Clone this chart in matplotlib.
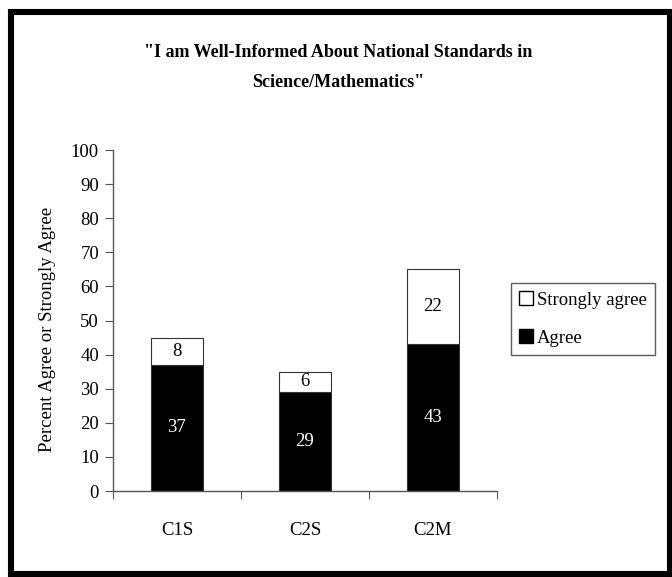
import matplotlib.pyplot as plt
from matplotlib.patches import Rectangle, Patch
import numpy as np

plt.rcParams['font.family'] = ['Liberation Serif', 'DejaVu Serif']

categories = ['C1S', 'C2S', 'C2M']
agree = [37, 29, 43]
strongly = [8, 6, 22]

fig = plt.figure(figsize=(6.72, 5.77), dpi=100)
ax = fig.add_axes([0.168, 0.149, 0.5716, 0.591])

x = np.arange(1, len(categories) + 1)
w = 0.41
ax.bar(x, agree, w, color='black', edgecolor='#333333', linewidth=0.8)
ax.bar(x, strongly, w, bottom=agree, color='white', edgecolor='#333333', linewidth=0.8)

for xi, a, s in zip(x, agree, strongly):
    ax.text(xi, a / 2, str(a), ha='center', va='center', color='white', fontsize=13.5)
    ax.text(xi, a + s / 2, str(s), ha='center', va='center', color='black', fontsize=13.5)

ax.set_xlim(0.5, 3.5)
ax.set_ylim(0, 100)
ax.set_yticks(range(0, 101, 10))
ax.set_xticks([0.5, 1.5, 2.5, 3.5])
ax.set_xticklabels([])
ax.set_xticks(x, minor=True)
ax.set_xticklabels(categories, minor=True)
ax.tick_params(axis='x', which='minor', length=0, pad=22, labelsize=13.5)
ax.tick_params(axis='x', which='major', length=6, direction='out', color='#555555')
ax.tick_params(axis='y', length=6, direction='out', labelsize=13.5, color='#555555', pad=4)
for side in ['top', 'right']:
    ax.spines[side].set_visible(False)
for side in ['left', 'bottom']:
    ax.spines[side].set_color('#555555')
    ax.spines[side].set_linewidth(1)
ax.set_ylabel('Percent Agree or Strongly Agree', fontsize=13.5)
ax.yaxis.set_label_coords(-0.148, 0.475)

fig.text(0.503, 0.909, '"I am Well-Informed About National Standards in',
         ha='center', va='center', fontsize=13, fontweight='bold')
fig.text(0.503, 0.857, 'Science/Mathematics"',
         ha='center', va='center', fontsize=13, fontweight='bold')

handles = [Patch(facecolor='white', edgecolor='black', label='Strongly agree'),
           Patch(facecolor='black', edgecolor='black', label='Agree')]
fig.legend(handles=handles, loc='upper left', bbox_to_anchor=(0.760, 0.510),
           frameon=True, fancybox=False, edgecolor='#333333', fontsize=13.5,
           handlelength=0.75, handleheight=0.75, handletextpad=0.2,
           borderpad=0.45, labelspacing=1.1, borderaxespad=0)

fig.patches.append(Rectangle((0.0164, 0.0052), 0.9806, 0.9738, transform=fig.transFigure,
                             fill=False, edgecolor='black', linewidth=4.4))

fig.savefig('out.png', dpi=100)
